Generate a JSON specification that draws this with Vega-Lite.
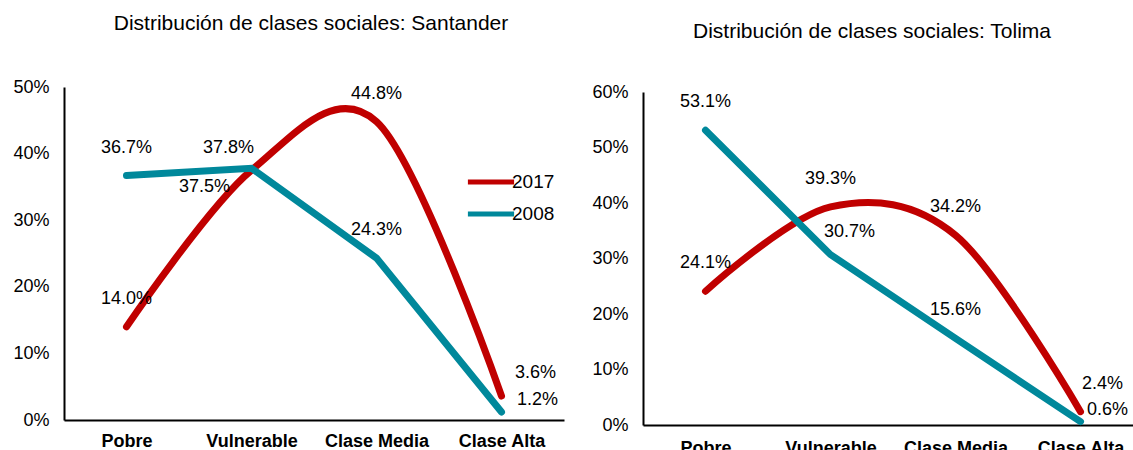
{
  "$schema": "https://vega.github.io/schema/vega-lite/v6.json",
  "padding": {"left": 12, "top": 13, "right": 0, "bottom": 0},
  "spacing": 27,
  "config": {
    "font": "Liberation Sans",
    "view": {"stroke": null},
    "axis": {"grid": false, "ticks": false, "domainColor": "#000000", "domainWidth": 2, "labelColor": "#000000", "title": null},
    "axisY": {"labelFontSize": 18, "labelPadding": 15, "format": ".0%"},
    "axisX": {"labelFontSize": 18, "labelFontWeight": "bold", "labelPadding": 14, "labelAngle": 0},
    "title": {"fontSize": 21, "fontWeight": "normal", "color": "#000000", "frame": "group"},
    "text": {"fontSize": 18, "font": "Liberation Sans", "color": "#000000"}
  },
  "datasets": {
    "santander": [
      {"clase": "Pobre", "serie": "2017", "valor": 0.140},
      {"clase": "Vulnerable", "serie": "2017", "valor": 0.375},
      {"clase": "Clase Media", "serie": "2017", "valor": 0.448},
      {"clase": "Clase Alta", "serie": "2017", "valor": 0.036},
      {"clase": "Pobre", "serie": "2008", "valor": 0.367},
      {"clase": "Vulnerable", "serie": "2008", "valor": 0.378},
      {"clase": "Clase Media", "serie": "2008", "valor": 0.243},
      {"clase": "Clase Alta", "serie": "2008", "valor": 0.012}
    ],
    "tolima": [
      {"clase": "Pobre", "serie": "2017", "valor": 0.241},
      {"clase": "Vulnerable", "serie": "2017", "valor": 0.393},
      {"clase": "Clase Media", "serie": "2017", "valor": 0.342},
      {"clase": "Clase Alta", "serie": "2017", "valor": 0.024},
      {"clase": "Pobre", "serie": "2008", "valor": 0.531},
      {"clase": "Vulnerable", "serie": "2008", "valor": 0.307},
      {"clase": "Clase Media", "serie": "2008", "valor": 0.156},
      {"clase": "Clase Alta", "serie": "2008", "valor": 0.006}
    ]
  },
  "resolve": {"scale": {"color": "independent"}, "legend": {"color": "independent"}},
  "hconcat": [
    {
      "width": 500,
      "height": 333,
      "title": {"text": "Distribución de clases sociales: Santander", "offset": 44, "dx": -3},
      "data": {"name": "santander"},
      "encoding": {
        "x": {"field": "clase", "type": "nominal", "sort": ["Pobre", "Vulnerable", "Clase Media", "Clase Alta"], "scale": {"type": "point", "padding": 0.5}, "axis": {"labelPadding": 12}},
        "y": {"field": "valor", "type": "quantitative", "scale": {"domain": [0, 0.5]}, "axis": {"values": [0, 0.1, 0.2, 0.3, 0.4, 0.5]}}
      },
      "layer": [
        {
          "transform": [{"filter": "datum.serie == '2017'"}],
          "mark": {"type": "line", "strokeWidth": 7, "interpolate": "cardinal", "strokeCap": "round"},
          "encoding": {
            "color": {"field": "serie", "type": "nominal", "scale": {"domain": ["2017", "2008"], "range": ["#C00000", "#00889B"]},
              "legend": {"orient": "none", "legendX": 408, "legendY": 76, "title": null, "symbolType": "M-1.4,0H1.4", "symbolStrokeWidth": 5, "symbolSize": 1089, "labelFontSize": 19, "labelColor": "#000000", "labelOffset": 2, "rowPadding": 3, "padding": 0}}
          }
        },
        {
          "transform": [{"filter": "datum.serie == '2008'"}],
          "mark": {"type": "line", "strokeWidth": 7, "interpolate": "linear", "strokeCap": "round"},
          "encoding": {"color": {"field": "serie", "type": "nominal"}}
        },
        {
          "transform": [{"filter": "!(datum.serie == '2017' && (datum.clase == 'Vulnerable' || datum.clase == 'Clase Alta')) && !(datum.serie == '2008' && (datum.clase == 'Vulnerable' || datum.clase == 'Clase Alta'))"}],
          "mark": {"type": "text", "dy": -28},
          "encoding": {"text": {"field": "valor", "type": "quantitative", "format": ".1%"}}
        },
        {
          "transform": [{"filter": "datum.serie == '2017' && datum.clase == 'Vulnerable'"}],
          "mark": {"type": "text", "dx": -47, "dy": 17},
          "encoding": {"text": {"field": "valor", "type": "quantitative", "format": ".1%"}}
        },
        {
          "transform": [{"filter": "datum.serie == '2008' && datum.clase == 'Vulnerable'"}],
          "mark": {"type": "text", "dx": -23, "dy": -20},
          "encoding": {"text": {"field": "valor", "type": "quantitative", "format": ".1%"}}
        },
        {
          "transform": [{"filter": "datum.serie == '2017' && datum.clase == 'Clase Alta'"}],
          "mark": {"type": "text", "dx": 34, "dy": -23},
          "encoding": {"text": {"field": "valor", "type": "quantitative", "format": ".1%"}}
        },
        {
          "transform": [{"filter": "datum.serie == '2008' && datum.clase == 'Clase Alta'"}],
          "mark": {"type": "text", "dx": 36, "dy": -12},
          "encoding": {"text": {"field": "valor", "type": "quantitative", "format": ".1%"}}
        }
      ]
    },
    {
      "width": 500,
      "height": 338,
      "title": {"text": "Distribución de clases sociales: Tolima", "offset": 41, "dx": -21},
      "data": {"name": "tolima"},
      "encoding": {
        "x": {"field": "clase", "type": "nominal", "sort": ["Pobre", "Vulnerable", "Clase Media", "Clase Alta"], "scale": {"type": "point", "padding": 0.5}},
        "y": {"field": "valor", "type": "quantitative", "scale": {"domain": [0, 0.6], "range": [338, 5]}, "axis": {"values": [0, 0.1, 0.2, 0.3, 0.4, 0.5, 0.6]}}
      },
      "layer": [
        {
          "transform": [{"filter": "datum.serie == '2017'"}],
          "mark": {"type": "line", "strokeWidth": 7, "interpolate": "cardinal", "strokeCap": "round"},
          "encoding": {
            "color": {"field": "serie", "type": "nominal", "scale": {"domain": ["2017", "2008"], "range": ["#C00000", "#00889B"]}, "legend": null}
          }
        },
        {
          "transform": [{"filter": "datum.serie == '2008'"}],
          "mark": {"type": "line", "strokeWidth": 7, "interpolate": "linear", "strokeCap": "round"},
          "encoding": {"color": {"field": "serie", "type": "nominal", "legend": null}}
        },
        {
          "transform": [{"filter": "!(datum.clase == 'Clase Alta') && !(datum.serie == '2008' && datum.clase == 'Vulnerable')"}],
          "mark": {"type": "text", "dy": -28},
          "encoding": {"text": {"field": "valor", "type": "quantitative", "format": ".1%"}}
        },
        {
          "transform": [{"filter": "datum.serie == '2008' && datum.clase == 'Vulnerable'"}],
          "mark": {"type": "text", "dx": 19, "dy": -23},
          "encoding": {"text": {"field": "valor", "type": "quantitative", "format": ".1%"}}
        },
        {
          "transform": [{"filter": "datum.serie == '2017' && datum.clase == 'Clase Alta'"}],
          "mark": {"type": "text", "dx": 22, "dy": -28},
          "encoding": {"text": {"field": "valor", "type": "quantitative", "format": ".1%"}}
        },
        {
          "transform": [{"filter": "datum.serie == '2008' && datum.clase == 'Clase Alta'"}],
          "mark": {"type": "text", "dx": 27, "dy": -12},
          "encoding": {"text": {"field": "valor", "type": "quantitative", "format": ".1%"}}
        }
      ]
    }
  ]
}
